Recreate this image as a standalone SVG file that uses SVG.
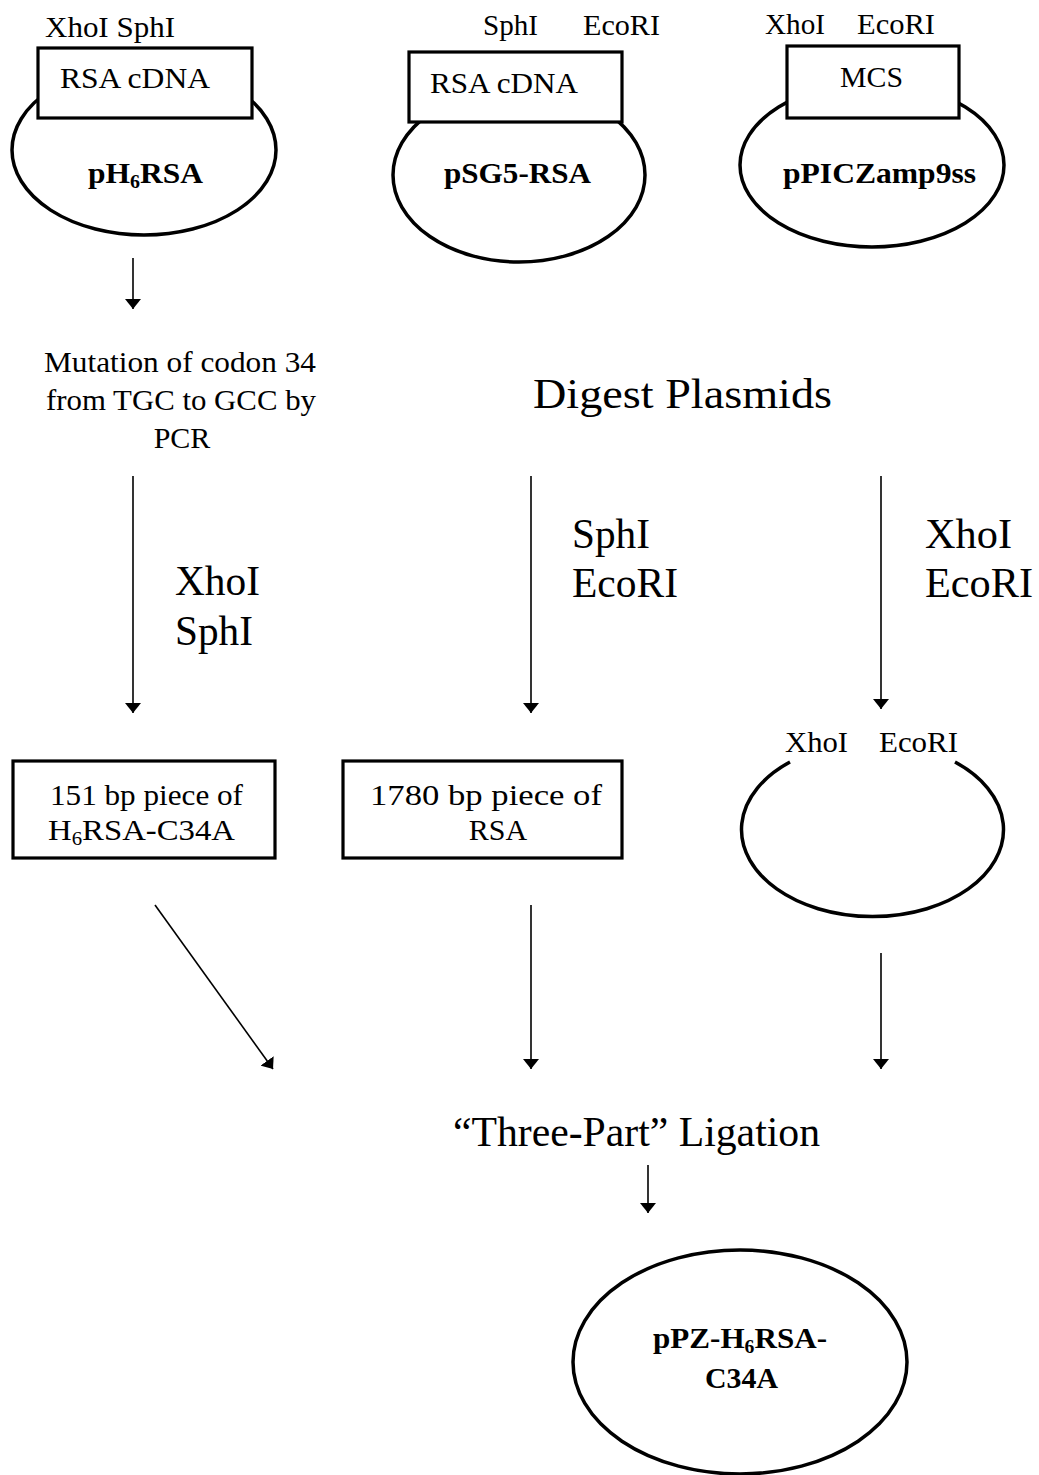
<svg xmlns="http://www.w3.org/2000/svg" width="1039" height="1475" viewBox="0 0 1039 1475">
<defs>
<marker id="ah" viewBox="0 0 10 16" refX="10" refY="8" markerWidth="10" markerHeight="16" markerUnits="userSpaceOnUse" orient="auto">
<path d="M0,0 L10,8 L0,16 Z" fill="#000"/>
</marker>
</defs>
<style>
text{font-family:"Liberation Serif","Times New Roman",serif;fill:#000}
.s{font-size:30px}
.b{font-size:30px;font-weight:bold}
.l{font-size:42px}
.ring{fill:#fff;stroke:#000;stroke-width:3.5}
.box{fill:#fff;stroke:#000;stroke-width:3.2}
.arr{stroke:#000;stroke-width:1.6;fill:none;marker-end:url(#ah)}
</style>
<rect width="1039" height="1475" fill="#fff"/>

<g id="pH6RSA">
<ellipse class="ring" cx="144" cy="150" rx="132" ry="85"/>
<rect class="box" x="38" y="48" width="214" height="70"/>
<text class="s" x="45" y="37" textLength="130" lengthAdjust="spacingAndGlyphs">XhoI SphI</text>
<text class="s" x="60" y="88" textLength="150" lengthAdjust="spacingAndGlyphs">RSA cDNA</text>
<text class="b" x="88" y="183" textLength="115" lengthAdjust="spacingAndGlyphs">pH<tspan font-size="19" dy="5">6</tspan><tspan dy="-5">RSA</tspan></text>
</g>

<g id="pSG5-RSA">
<ellipse class="ring" cx="519" cy="175" rx="126" ry="87"/>
<rect class="box" x="409" y="52" width="213" height="70"/>
<text class="s" x="483" y="35" textLength="55" lengthAdjust="spacingAndGlyphs">SphI</text>
<text class="s" x="583" y="35" textLength="77" lengthAdjust="spacingAndGlyphs">EcoRI</text>
<text class="s" x="430" y="93" textLength="148" lengthAdjust="spacingAndGlyphs">RSA cDNA</text>
<text class="b" x="444" y="183" textLength="147" lengthAdjust="spacingAndGlyphs">pSG5-RSA</text>
</g>

<g id="pPICZamp9ss">
<ellipse class="ring" cx="872" cy="165" rx="132" ry="82"/>
<rect class="box" x="787" y="46" width="172" height="72"/>
<text class="s" x="765" y="34" textLength="60" lengthAdjust="spacingAndGlyphs">XhoI</text>
<text class="s" x="857" y="34" textLength="78" lengthAdjust="spacingAndGlyphs">EcoRI</text>
<text class="s" x="840" y="87" textLength="63" lengthAdjust="spacingAndGlyphs">MCS</text>
<text class="b" x="783" y="183" textLength="193" lengthAdjust="spacingAndGlyphs">pPICZamp9ss</text>
</g>

<g id="mutation">
<text class="s" x="44" y="372" textLength="272" lengthAdjust="spacingAndGlyphs">Mutation of codon 34</text>
<text class="s" x="46" y="410" textLength="270" lengthAdjust="spacingAndGlyphs">from TGC to GCC by</text>
<text class="s" x="182" y="448" text-anchor="middle">PCR</text>
</g>

<g id="digest">
<text class="l" x="533" y="408" font-size="40" textLength="299" lengthAdjust="spacingAndGlyphs">Digest Plasmids</text>
</g>

<g id="enzymes">
<text class="l" x="175" y="595" textLength="85" lengthAdjust="spacingAndGlyphs">XhoI</text>
<text class="l" x="175" y="645" textLength="78" lengthAdjust="spacingAndGlyphs">SphI</text>
<text class="l" x="572" y="548" textLength="78" lengthAdjust="spacingAndGlyphs">SphI</text>
<text class="l" x="572" y="597" textLength="106" lengthAdjust="spacingAndGlyphs">EcoRI</text>
<text class="l" x="925" y="548" textLength="87" lengthAdjust="spacingAndGlyphs">XhoI</text>
<text class="l" x="925" y="597" textLength="108" lengthAdjust="spacingAndGlyphs">EcoRI</text>
</g>

<g id="piece151">
<rect class="box" x="13" y="761" width="262" height="97"/>
<text class="s" x="50" y="805" textLength="193" lengthAdjust="spacingAndGlyphs">151 bp piece of</text>
<text class="s" x="48" y="840" textLength="187" lengthAdjust="spacingAndGlyphs">H<tspan font-size="19" dy="5">6</tspan><tspan dy="-5">RSA-C34A</tspan></text>
</g>

<g id="piece1780">
<rect class="box" x="343" y="761" width="279" height="97"/>
<text class="s" x="370" y="805" textLength="232" lengthAdjust="spacingAndGlyphs">1780 bp piece of</text>
<text class="s" x="498" y="840" text-anchor="middle">RSA</text>
</g>

<g id="openVector">
<path class="ring" d="M790,762 A131,87 0 1 0 955,762" style="fill:none"/>
<text class="s" x="785" y="752" textLength="63" lengthAdjust="spacingAndGlyphs">XhoI</text>
<text class="s" x="879" y="752" textLength="79" lengthAdjust="spacingAndGlyphs">EcoRI</text>
</g>

<g id="ligation">
<text class="l" x="453" y="1146" textLength="367" lengthAdjust="spacingAndGlyphs">“Three-Part” Ligation</text>
</g>

<g id="pPZ-H6RSA-C34A">
<ellipse class="ring" cx="740" cy="1362" rx="167" ry="112"/>
<text class="b" x="653" y="1348" textLength="174" lengthAdjust="spacingAndGlyphs">pPZ-H<tspan font-size="19" dy="5">6</tspan><tspan dy="-5">RSA-</tspan></text>
<text class="b" x="705" y="1388" textLength="73" lengthAdjust="spacingAndGlyphs">C34A</text>
</g>

<g id="connectors">
<line class="arr" x1="133" y1="258" x2="133" y2="309"/>
<line class="arr" x1="133" y1="476" x2="133" y2="713"/>
<line class="arr" x1="531" y1="476" x2="531" y2="713"/>
<line class="arr" x1="881" y1="476" x2="881" y2="709"/>
<line class="arr" x1="155" y1="905" x2="273" y2="1069"/>
<line class="arr" x1="531" y1="905" x2="531" y2="1069"/>
<line class="arr" x1="881" y1="953" x2="881" y2="1069"/>
<line class="arr" x1="648" y1="1165" x2="648" y2="1213"/>
</g>
</svg>
